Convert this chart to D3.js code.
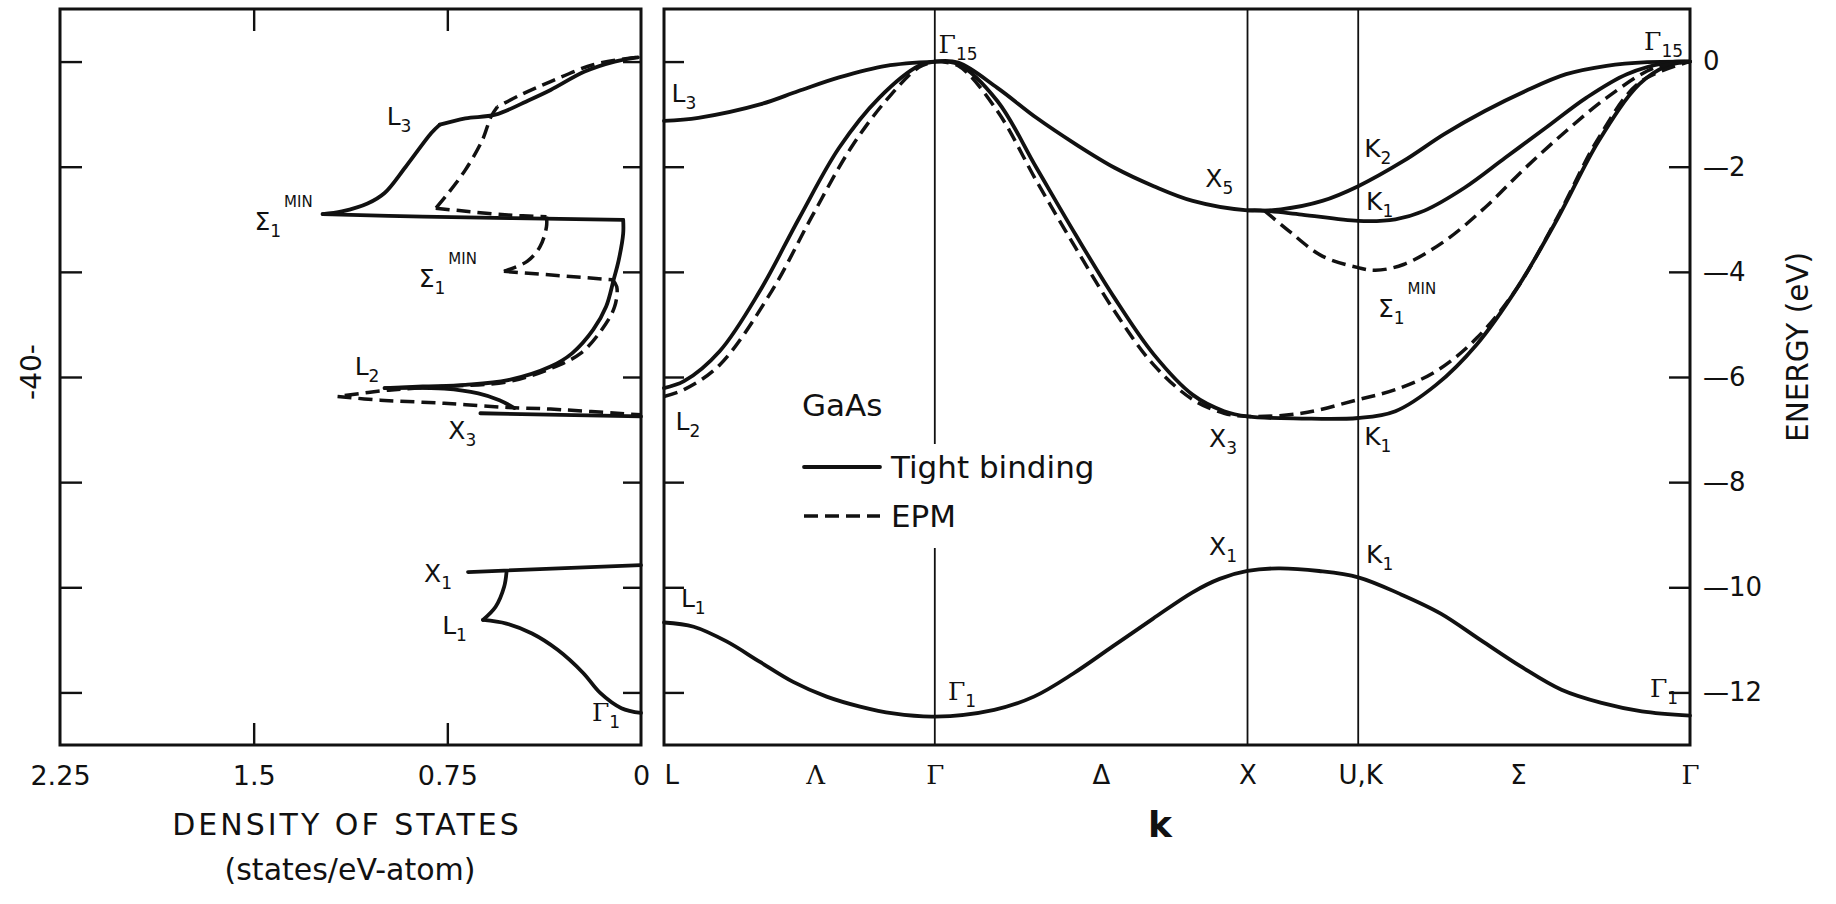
<!DOCTYPE html>
<html lang="en">
<head>
<meta charset="UTF-8">
<title>GaAs band structure and density of states</title>
<script src="https://d3js.org/d3.v7.min.js"></script>
<style>
    body { margin: 0; background: #fff; }
    svg { display: block; font-family: "DejaVu Sans", sans-serif; }
    .frame { fill: none; stroke: #111; stroke-width: 3; }
    .tb { fill: none; stroke: #111; stroke-width: 3.8; stroke-linejoin: round; stroke-linecap: round; }
    .epm { fill: none; stroke: #111; stroke-width: 3.5; stroke-dasharray: 14 7; }
    .sym { stroke: #111; stroke-width: 1.8; }
    .lab { font-size: 25px; fill: #111; }
</style>
</head>
<body>
<svg id="chart" width="1836" height="904"></svg>
<script>
// ---- axis values ----
const energyTicks = [0, -2, -4, -6, -8, -10, -12];
const energyTickLabels = ["0", "—2", "—4", "—6", "—8", "—10", "—12"];
const dosTicks = [2.25, 1.5, 0.75, 0];
const dosTickLabels = ["2.25", "1.5", "0.75", "0"];
const dosInnerTicks = [1.5, 0.75];
const kSymmetry = [0, 0.866, 1.866, 2.220, 3.281];      // L, Γ, X, U/K, Γ
const kTickValues = [0, 0.483, 0.866, 1.397, 1.866, 2.226, 2.731, 3.281];
const kTickLabels = ["L", "Λ", "Γ", "Δ", "X", "U,K", "Σ", "Γ"];

// ---- bands, [k, E(eV)] ----
// tight binding (solid)
const bandL3 = [[0,-1.13],[0.11,-1.07],[0.31,-0.81],[0.43,-0.56],[0.56,-0.30],[0.71,-0.08],[0.866,0]];
const bandL2 = [[0,-6.21],[0.064,-6.08],[0.178,-5.51],[0.306,-4.37],[0.433,-2.97],[0.560,-1.64],[0.688,-0.69],[0.815,-0.08],[0.866,0]];
const bandX5K2 = [[0.866,0],[0.941,-0.02],[1.066,-0.50],[1.191,-1.07],[1.316,-1.57],[1.441,-2.02],[1.566,-2.37],[1.691,-2.65],[1.866,-2.83],
    [1.973,-2.81],[2.105,-2.65],[2.220,-2.37],[2.365,-1.89],[2.495,-1.38],[2.625,-0.94],[2.755,-0.56],[2.885,-0.24],[3.014,-0.08],[3.144,-0.01],[3.281,0]];
const bandX5K1 = [[1.866,-2.83],[1.908,-2.83],[2.039,-2.91],[2.220,-3.03],[2.339,-3.00],[2.430,-2.84],[2.560,-2.40],[2.690,-1.83],
    [2.820,-1.26],[2.949,-0.69],[3.079,-0.24],[3.209,-0.02],[3.281,0]];
const bandX3K1 = [[0.866,0],[0.941,-0.05],[1.066,-0.75],[1.191,-2.02],[1.316,-3.29],[1.441,-4.50],[1.566,-5.57],[1.691,-6.34],[1.791,-6.65],
    [1.866,-6.75],[2.039,-6.79],[2.220,-6.78],[2.339,-6.65],[2.469,-6.15],[2.599,-5.38],[2.729,-4.30],[2.859,-2.97],[2.989,-1.51],
    [3.119,-0.43],[3.209,-0.08],[3.281,0]];
const bandLowest = [[0,-10.67],[0.095,-10.75],[0.200,-11.03],[0.307,-11.42],[0.413,-11.80],[0.520,-12.08],[0.627,-12.27],[0.733,-12.40],
    [0.866,-12.46],[1.056,-12.33],[1.183,-12.08],[1.309,-11.64],[1.436,-11.12],[1.563,-10.60],[1.689,-10.10],[1.777,-9.84],[1.866,-9.69],
    [1.964,-9.64],[2.095,-9.69],[2.220,-9.81],[2.355,-10.13],[2.484,-10.50],[2.613,-11.01],[2.741,-11.51],[2.870,-11.95],[2.998,-12.20],
    [3.127,-12.36],[3.281,-12.44]];
// EPM (dashed)
const epmL2 = [[0,-6.37],[0.064,-6.24],[0.178,-5.77],[0.344,-4.37],[0.471,-2.97],[0.598,-1.64],[0.713,-0.72],[0.815,-0.11],[0.866,0]];
const epmX3 = [[0.866,0],[0.941,-0.08],[1.066,-0.94],[1.191,-2.27],[1.316,-3.54],[1.441,-4.75],[1.566,-5.77],[1.691,-6.43],[1.791,-6.69],
    [1.866,-6.75],[2.039,-6.69],[2.220,-6.43],[2.339,-6.24],[2.469,-5.89],[2.599,-5.26],[2.729,-4.30],[2.859,-2.94],[2.989,-1.45],[3.119,-0.40],[3.281,0]];
const epmSigma = [[1.921,-2.84],[2.000,-3.23],[2.105,-3.70],[2.220,-3.92],[2.275,-3.97],[2.365,-3.86],[2.495,-3.42],[2.625,-2.78],
    [2.755,-2.02],[2.885,-1.32],[3.014,-0.69],[3.144,-0.18],[3.209,-0.05],[3.281,0]];

const tbBands = [bandL3, bandL2, bandX5K2, bandX5K1, bandX3K1, bandLowest];
const epmBands = [epmL2, epmX3, epmSigma];

// ---- density of states, [states/eV-atom, E(eV)], pieces split at the singularities ----
const dosTB = [
    [[0.012,0.08],[0.102,0],[0.218,-0.19],[0.350,-0.54],[0.432,-0.73],[0.564,-1.01],[0.680,-1.08],[0.779,-1.20]],
    [[0.779,-1.20],[0.812,-1.36],[0.911,-2.00],[0.993,-2.50],[1.059,-2.70],[1.158,-2.85],[1.233,-2.90]],
    [[1.233,-2.90],[0.845,-2.95],[0.069,-3.01]],
    [[0.069,-3.01],[0.069,-3.27],[0.086,-3.77],[0.106,-4.15],[0.135,-4.66],[0.185,-5.10],[0.267,-5.55],[0.350,-5.80],[0.515,-6.06],[0.680,-6.15],[0.845,-6.18],[0.993,-6.21]],
    [[0.993,-6.21],[0.762,-6.22],[0.630,-6.31],[0.548,-6.44],[0.490,-6.59]],
    [[0.622,-6.69],[0,-6.75]],
    [[0.670,-9.71],[0,-9.58]],
    [[0.521,-9.72],[0.530,-9.99],[0.563,-10.37],[0.612,-10.62]],
    [[0.612,-10.62],[0.521,-10.69],[0.422,-10.88],[0.323,-11.19],[0.224,-11.63],[0.158,-12.01],[0.076,-12.30],[0,-12.39]]
];
const dosEPM = [
    [[0.020,0.08],[0.185,-0.06],[0.350,-0.38],[0.465,-0.63],[0.556,-0.86]],
    [[0.556,-0.86],[0.581,-1.05],[0.614,-1.49],[0.680,-2.06],[0.746,-2.50],[0.795,-2.79]],
    [[0.795,-2.79],[0.713,-2.83],[0.515,-2.92],[0.366,-2.95]],
    [[0.366,-2.95],[0.366,-3.14],[0.391,-3.52],[0.441,-3.80],[0.531,-3.99]],
    [[0.531,-3.99],[0.111,-4.15]],
    [[0.111,-4.15],[0.094,-4.28],[0.102,-4.66],[0.152,-5.10],[0.234,-5.55],[0.350,-5.84],[0.515,-6.09],[0.762,-6.18],[0.977,-6.25],[1.175,-6.37]],
    [[1.175,-6.37],[1.010,-6.44],[0.762,-6.50],[0.515,-6.58],[0.350,-6.61],[0,-6.72]]
];

// ---- point labels ----
const bandLabels = [
    { main: "Γ", sub: "15", k: 0.878, e: 0.16 },
    { main: "L", sub: "3", k: 0.024, e: -0.76 },
    { main: "X", sub: "5", k: 1.731, e: -2.38 },
    { main: "K", sub: "2", k: 2.239, e: -1.81 },
    { main: "K", sub: "1", k: 2.245, e: -2.82 },
    { main: "Γ", sub: "15", k: 3.134, e: 0.22 },
    { main: "Σ", sub: "1", sup: "MIN", k: 2.283, e: -4.86 },
    { main: "L", sub: "2", k: 0.037, e: -7.01 },
    { main: "X", sub: "3", k: 1.743, e: -7.33 },
    { main: "K", sub: "1", k: 2.239, e: -7.29 },
    { main: "X", sub: "1", k: 1.743, e: -9.39 },
    { main: "K", sub: "1", k: 2.245, e: -9.54 },
    { main: "L", sub: "1", k: 0.054, e: -10.37 },
    { main: "Γ", sub: "1", k: 0.908, e: -12.14 },
    { main: "Γ", sub: "1", k: 3.153, e: -12.09 }
];
const dosLabels = [
    { main: "L", sub: "3", d: 0.985, e: -1.20 },
    { main: "Σ", sub: "1", sup: "MIN", d: 1.497, e: -3.20 },
    { main: "Σ", sub: "1", sup: "MIN", d: 0.861, e: -4.28 },
    { main: "L", sub: "2", d: 1.109, e: -5.96 },
    { main: "X", sub: "3", d: 0.746, e: -7.17 },
    { main: "X", sub: "1", d: 0.840, e: -9.90 },
    { main: "L", sub: "1", d: 0.770, e: -10.88 },
    { main: "Γ", sub: "1", d: 0.190, e: -12.55 }
];

const legendItems = [
    { name: "Tight binding", cls: "tb" },
    { name: "EPM", cls: "epm" }
];

// ---- scales ----
const serif = "'DejaVu Serif', serif";
const svg = d3.select("#chart");
svg.append("rect").attr("width", 1836).attr("height", 904).attr("fill", "#fff");

const yE = d3.scaleLinear().domain([-13, 1]).range([745, 9]);
const xDos = d3.scaleLinear().domain([2.25, 0]).range([60, 641]);
const xK = d3.scaleLinear().domain([0, 3.281]).range([664, 1690]);

const bandLine = d3.line().x(d => xK(d[0])).y(d => yE(d[1])).curve(d3.curveCatmullRom.alpha(0.5));
const dosLine = d3.line().x(d => xDos(d[0])).y(d => yE(d[1])).curve(d3.curveCatmullRom.alpha(0.5));

function tickGroup(x, y, axis) {
    const g = svg.append("g").attr("transform", `translate(${x},${y})`).call(axis);
    g.select(".domain").remove();
    g.selectAll("line").attr("stroke", "#111").attr("stroke-width", 2.4);
    return g;
}

function addLabel(x, y, lab) {
    const t = svg.append("text").attr("class", "lab").attr("x", x).attr("y", y);
    t.append("tspan").text(lab.main).attr("font-family", lab.main === "Γ" ? serif : null);
    if (lab.sub) t.append("tspan").attr("font-size", 17).attr("dy", 7).text(lab.sub);
    if (lab.sup) t.append("tspan").attr("font-size", 15).attr("dx", 3).attr("dy", -30).text(lab.sup);
}

// ---- left panel: density of states ----
const [dx0, dx1] = xDos.range();
const [yb, yt] = yE.range();

tickGroup(dx0, 0, d3.axisRight(yE).tickValues(energyTicks).tickSize(22).tickFormat(""));
tickGroup(dx1, 0, d3.axisLeft(yE).tickValues(energyTicks).tickSize(18).tickFormat(""));
tickGroup(0, yt, d3.axisBottom(xDos).tickValues(dosInnerTicks).tickSize(22).tickFormat(""));
tickGroup(0, yb, d3.axisTop(xDos).tickValues(dosInnerTicks).tickSize(22).tickFormat(""));

const dosAxis = tickGroup(0, yb, d3.axisBottom(xDos).tickValues(dosTicks).tickSize(0).tickPadding(21)
    .tickFormat((d, i) => dosTickLabels[i]));
dosAxis.selectAll("text").attr("font-size", 27).attr("font-family", "DejaVu Sans").attr("fill", "#111");

dosTB.forEach(seg => svg.append("path").datum(seg).attr("class", "tb").attr("d", dosLine));
dosEPM.forEach(seg => svg.append("path").datum(seg).attr("class", "epm").attr("d", dosLine));

svg.append("rect").attr("class", "frame")
    .attr("x", dx0).attr("y", yt).attr("width", dx1 - dx0).attr("height", yb - yt);

dosLabels.forEach(l => addLabel(xDos(l.d), yE(l.e), l));

svg.append("text").attr("x", 347).attr("y", 835).attr("text-anchor", "middle")
    .attr("font-size", 30).attr("letter-spacing", 3).attr("fill", "#111").text("DENSITY OF STATES");
svg.append("text").attr("x", 350).attr("y", 880).attr("text-anchor", "middle")
    .attr("font-size", 30).attr("fill", "#111").text("(states/eV-atom)");

svg.append("text").attr("transform", "translate(31,372) rotate(-90)").attr("text-anchor", "middle")
    .attr("dominant-baseline", "central").attr("font-size", 28).attr("fill", "#111").text("-40-");

// ---- right panel: band structure ----
const [kx0, kx1] = xK.range();

kSymmetry.slice(1, 4).forEach(k => {
    svg.append("line").attr("class", "sym")
        .attr("x1", xK(k)).attr("x2", xK(k)).attr("y1", yt).attr("y2", yb);
});

tickGroup(kx0, 0, d3.axisRight(yE).tickValues(energyTicks).tickSize(20).tickFormat(""));
tickGroup(kx1, 0, d3.axisLeft(yE).tickValues(energyTicks).tickSize(21).tickFormat(""));

const eAxis = tickGroup(kx1, 0, d3.axisRight(yE).tickValues(energyTicks).tickSize(0).tickPadding(13)
    .tickFormat((d, i) => energyTickLabels[i]));
eAxis.selectAll("text").attr("font-size", 26).attr("font-family", "DejaVu Sans").attr("fill", "#111");

const kAxis = tickGroup(0, yb, d3.axisBottom(xK).tickValues(kTickValues).tickSize(0).tickPadding(21)
    .tickFormat((d, i) => kTickLabels[i]));
kAxis.selectAll("text").attr("font-size", 26).attr("fill", "#111")
    .attr("font-family", (d, i) => /[ΓΛ]/.test(kTickLabels[i]) ? serif : "DejaVu Sans")
    .attr("text-anchor", (d, i) => i === 0 ? "start" : "middle");

// legend (white box hides the Γ line behind the text, as in the original)
svg.append("rect").attr("x", 888).attr("y", 444).attr("width", 225).attr("height", 104).attr("fill", "#fff");
svg.append("text").attr("x", 802).attr("y", 416).attr("font-size", 31).attr("fill", "#111").text("GaAs");
legendItems.forEach((item, i) => {
    const y = 467 + i * 49;
    svg.append("line").attr("class", item.cls).attr("x1", 804).attr("x2", 880).attr("y1", y).attr("y2", y)
        .attr("stroke-dasharray", item.cls === "epm" ? "20 6" : null);
    svg.append("text").attr("x", 891).attr("y", y + 11).attr("font-size", 31).attr("fill", "#111").text(item.name);
});

tbBands.forEach(b => svg.append("path").datum(b).attr("class", "tb").attr("d", bandLine));
epmBands.forEach(b => svg.append("path").datum(b).attr("class", "epm").attr("d", bandLine));

svg.append("rect").attr("class", "frame")
    .attr("x", kx0).attr("y", yt).attr("width", kx1 - kx0).attr("height", yb - yt);

bandLabels.forEach(l => addLabel(xK(l.k), yE(l.e), l));

svg.append("text").attr("x", 1160).attr("y", 837).attr("text-anchor", "middle")
    .attr("font-size", 36).attr("font-weight", "bold").attr("fill", "#111").text("k");

svg.append("text").attr("transform", "translate(1797,347) rotate(-90)").attr("text-anchor", "middle")
    .attr("dominant-baseline", "central").attr("font-size", 30).attr("textLength", 190)
    .attr("lengthAdjust", "spacingAndGlyphs").attr("fill", "#111").text("ENERGY (eV)");
</script>
</body>
</html>
